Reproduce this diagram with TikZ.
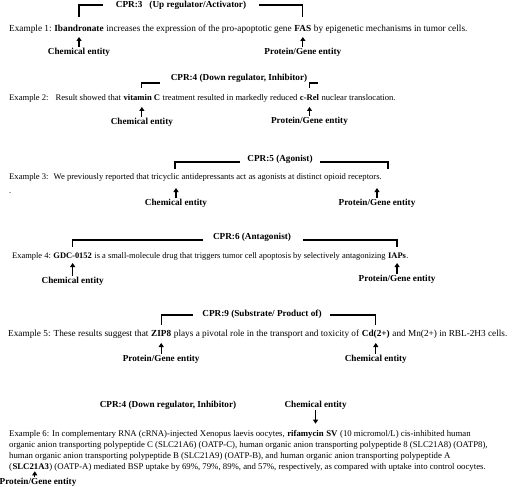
\documentclass[tikz,border=0pt]{standalone}
\usepackage{fontspec}
\setmainfont{Liberation Serif}
\usetikzlibrary{arrows.meta}

\begin{document}
\begin{tikzpicture}[x=1pt,y=-1pt,
	sent/.style={inner sep=0pt,anchor=base west,font=\fontsize{#1}{10}\selectfont},
	sent/.default=8.6,
	ent/.style={sent,font=\fontsize{#1}{10}\selectfont\bfseries},
	ent/.default=8.6,
	lab/.style={inner sep=0pt,font=\fontsize{9.2}{11}\selectfont\bfseries},
	arr/.style={line width=1.2pt,shorten <=1pt,-{Triangle[length=4pt,width=5pt]}},
	brk/.style={line width=1.2pt}]
	\useasboundingbox (0,0) rectangle (520,487);

	\node[sent=9.27] (s1a) at (9,32) {Example 1:\ \mbox{}};
	\node[ent=9.27] (c1) at (s1a.base east) {Ibandronate};
	\node[sent=9.27] (s1b) at (c1.base east) {\ increases the expression of the pro-apoptotic gene\ \mbox{}};
	\node[ent=9.27] (p1) at (s1b.base east) {FAS};
	\node[sent=9.27] (s1c) at (p1.base east) {\ by epigenetic mechanisms in tumor cells.};
	\node[lab] (r1) at (181,5) {CPR:3\hspace{7pt}(Up regulator/Activator)};
	\coordinate (r1l) at (103,5);
	\coordinate (r1r) at (259,5);
	\draw[brk] (c1 |- 0,17) |- (r1l);
	\draw[brk] (p1 |- 0,17) |- (r1r);
	\node[lab] (c1l) at (c1 |- 0,52) {Chemical entity};
	\node[lab] (p1l) at (p1 |- 0,52) {Protein/Gene entity};
	\draw[arr,shorten >=5pt] (c1l) -- (c1l |- c1.base);
	\draw[arr,shorten >=5pt] (p1l) -- (p1l |- p1.base);

	\node[sent] (s2a) at (9,101) {Example 2:\hspace{7pt}Result showed that\ \mbox{}};
	\node[ent] (c2) at (s2a.base east) {vitamin C};
	\node[sent] (s2b) at (c2.base east) {\ treatment resulted in markedly reduced\ \mbox{}};
	\node[ent] (p2) at (s2b.base east) {c-Rel};
	\node[sent] (s2c) at (p2.base east) {\ nuclear translocation.};
	\node[lab] (r2) at (239,78) {CPR:4 (Down regulator, Inhibitor)};
	\coordinate (r2l) at (160,83);
	\coordinate (r2r) at (318,83);
	\draw[brk] (c2 |- 0,88) |- (r2l);
	\draw[brk] (p2 |- 0,88) |- (r2r);
	\node[lab] (c2l) at (c2 |- 0,122) {Chemical entity};
	\node[lab] (p2l) at (p2 |- 0,121) {Protein/Gene entity};
	\draw[arr,shorten >=6pt] (c2l) -- (c2l |- c2.base);
	\draw[arr,shorten >=6pt] (p2l) -- (p2l |- p2.base);

	\node[sent] (s3) at (9,179) {Example 3:\hspace{5pt}We previously reported that tricyclic antidepressants act as agonists at distinct opioid receptors.};
	\node[sent] (dot3) at (9,193) {.};
	\coordinate (c3) at (176,179);
	\coordinate (p3) at (377,179);
	\node[lab] (r3) at (280,159) {CPR:5 (Agonist)};
	\coordinate (r3l) at (240,162);
	\coordinate (r3r) at (320,162);
	\draw[brk] (175,169) |- (r3l);
	\draw[brk] (388,169) |- (r3r);
	\node[lab] (c3l) at (c3 |- 0,203) {Chemical entity};
	\node[lab] (p3l) at (p3 |- 0,203) {Protein/Gene entity};
	\draw[arr,shorten >=9pt] (c3l) -- (c3);
	\draw[arr,shorten >=9pt] (p3l) -- (p3);

	\node[sent=8.45] (s4a) at (12,258) {Example 4:\ \mbox{}};
	\node[ent=8.45] (c4) at (s4a.base east) {GDC-0152};
	\node[sent=8.45] (s4b) at (c4.base east) {\ is a small-molecule drug that triggers tumor cell apoptosis by selectively antagonizing\ \mbox{}};
	\node[ent=8.45] (p4) at (s4b.base east) {IAPs};
	\node[sent=8.45] (s4c) at (p4.base east) {.};
	\node[lab] (r4) at (252,237) {CPR:6 (Antagonist)};
	\coordinate (r4l) at (203,240);
	\coordinate (r4r) at (303,240);
	\draw[brk] (c4 |- 0,247) |- (r4l);
	\draw[brk] (p4 |- 0,247) |- (r4r);
	\node[lab] (c4l) at (c4 |- 0,281) {Chemical entity};
	\node[lab] (p4l) at (p4 |- 0,279) {Protein/Gene entity};
	\draw[arr,shorten >=5pt] (c4l) -- (c4l |- c4.base);
	\draw[arr,shorten >=5pt] (p4l) -- (p4l |- p4.base);

	\node[sent=9.25] (s5a) at (8,336) {Example 5: These results suggest that\ \mbox{}};
	\node[ent=9.25] (p5) at (s5a.base east) {ZIP8};
	\node[sent=9.25] (s5b) at (p5.base east) {\ plays a pivotal role in the transport and toxicity of\ \mbox{}};
	\node[ent=9.25] (c5) at (s5b.base east) {Cd(2+)};
	\node[sent=9.25] (s5c) at (c5.base east) {\ and Mn(2+) in RBL-2H3 cells.};
	\node[lab] (r5) at (262,314) {CPR:9 (Substrate/ Product of)};
	\coordinate (r5l) at (193,315);
	\coordinate (r5r) at (330,315);
	\draw[brk] (p5 |- 0,325) |- (r5l);
	\draw[brk] (c5 |- 0,325) |- (r5r);
	\node[lab] (p5l) at (p5 |- 0,359) {Protein/Gene entity};
	\node[lab] (c5l) at (c5 |- 0,359) {Chemical entity};
	\draw[arr,shorten >=7pt] (p5l) -- (p5l |- p5.base);
	\draw[arr,shorten >=7pt] (c5l) -- (c5l |- c5.base);

	\node[lab] (r6) at (168,405) {CPR:4 (Down regulator, Inhibitor)};
	\node[sent=8.75] (s6a) at (9,436) {Example 6: In complementary RNA (cRNA)-injected Xenopus laevis oocytes,\ \mbox{}};
	\node[ent=8.75] (c6) at (s6a.base east) {rifamycin};
	\node[ent=8.75] (c6b) at (c6.base east) {\ SV};
	\node[sent=8.75] (s6b) at (c6b.base east) {\ (10 micromol/L) cis-inhibited human};
	\node[sent=8.75] (s6c) at (9,447) {organic anion transporting polypeptide C (SLC21A6) (OATP-C), human organic anion transporting polypeptide 8 (SLC21A8) (OATP8),};
	\node[sent=8.75] (s6d) at (9,458) {human organic anion transporting polypeptide B (SLC21A9) (OATP-B), and human organic anion transporting polypeptide A};
	\node[sent=8.75] (s6e) at (9,469) {(};
	\node[ent=8.75] (p6) at (s6e.base east) {SLC21A3};
	\node[sent=8.75] (s6f) at (p6.base east) {) (OATP-A) mediated BSP uptake by 69\%, 79\%, 89\%, and 57\%, respectively, as compared with uptake into control oocytes.};
	\node[lab] (c6l) at ([xshift=10pt]c6.center |- 0,405) {Chemical entity};
	\node[lab] (p6l) at (38,482) {Protein/Gene entity};
	\draw[arr,shorten >=6pt] (c6l) -- (c6l |- c6.north);
	\draw[arr,shorten >=2pt] ([xshift=4pt]p6.south |- 0,478) -- ([xshift=4pt]p6.south);
\end{tikzpicture}
\end{document}
